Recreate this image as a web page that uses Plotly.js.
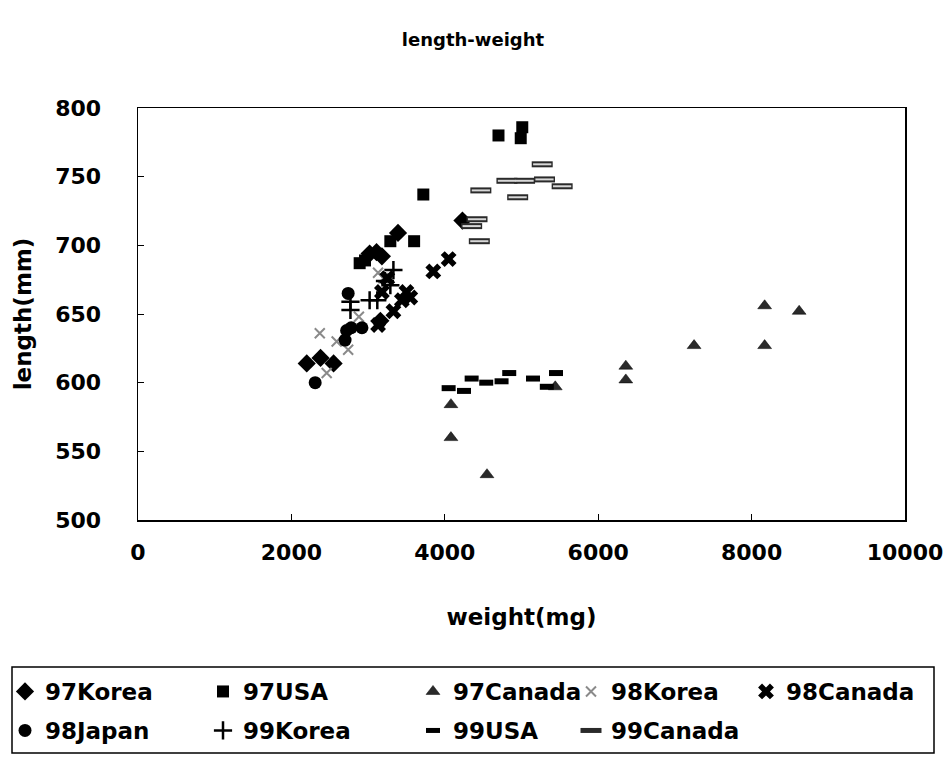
<!DOCTYPE html>
<html>
<head>
<meta charset="utf-8">
<script src="https://cdn.plot.ly/plotly-3.0.1.min.js"></script>
<style>html,body{margin:0;padding:0;background:#fff;}#chart{width:946px;height:757px;}</style>
</head>
<body>
<div id="chart"></div>
<script>
// ---- data (weight in mg, length in mm) ----
const korea97_w  = [2200, 2380, 2550, 3160, 3020, 3110, 3180, 3390, 4230];
const korea97_l  = [614, 618, 614, 645, 694, 695, 692, 709, 718];
const usa97_w    = [2890, 2960, 3290, 3600, 3720, 4700, 4990, 5010];
const usa97_l    = [687, 689, 703, 703, 737, 780, 778, 786];
const canada97_w = [4080, 4080, 4550, 5440, 6360, 6360, 7250, 8170, 8170, 8620];
const canada97_l = [584, 560, 533, 597, 612, 602, 627, 656, 627, 652];
const korea98_w  = [2370, 2460, 2590, 2740, 2880, 3130, 3200];
const korea98_l  = [636, 607, 630, 624, 648, 680, 676];
const canada98_w = [3130, 3330, 3440, 3500, 3550, 3850, 4050, 3180, 3250];
const canada98_l = [642, 652, 660, 666, 662, 681, 690, 666, 676];
const japan98_w  = [2310, 2700, 2720, 2740, 2920, 2780, 3150];
const japan98_l  = [600, 631, 638, 665, 640, 640, 644];
const korea99_w  = [2770, 2770, 3020, 3120, 3290, 3330, 3220];
const korea99_l  = [659, 653, 660, 660, 671, 682, 674];
const usa99_w    = [4050, 4250, 4350, 4540, 4740, 4840, 5150, 5330, 5450];
const usa99_l    = [596, 594, 603, 600, 601, 607, 603, 597, 607];
const canada99_w = [4350, 4420, 4450, 4470, 4810, 5040, 4950, 5270, 5300, 5530];
const canada99_l = [714, 719, 703, 740, 747, 747, 735, 759, 748, 743];

const seriesNames = ['97Korea','97USA','97Canada','98Korea','98Canada','98Japan','99Korea','99USA','99Canada'];
const xTicks = [0, 2000, 4000, 6000, 8000, 10000];
const yTicks = [500, 550, 600, 650, 700, 750, 800];

const FONT = 'DejaVu Sans, Verdana, sans-serif';

function tr(name, x, y, marker, legend, lw) {
  const t = {type:'scatter', mode:'markers', name:name, x:x, y:y, marker:marker,
          legend:legend, cliponaxis:false, hoverinfo:'x+y+name'};
  if (lw) t.legendwidth = lw;
  return t;
}

const traces = [
  tr(seriesNames[0], korea97_w, korea97_l, {symbol:'diamond', size:14, color:'#000'}, 'legend', 153),
  tr(seriesNames[1], usa97_w, usa97_l, {symbol:'square', size:12, color:'#000'}, 'legend', 165),
  tr(seriesNames[2], canada97_w, canada97_l, {symbol:'triangle-up', size:12, color:'#2a2a2a', line:{color:'#000', width:0.5}}, 'legend', 0),
  tr(seriesNames[3], korea98_w, korea98_l, {symbol:'x-thin-open', size:10, color:'#8a8a8a', line:{color:'#8a8a8a', width:2}}, 'legend3', 130),
  tr(seriesNames[4], canada98_w, canada98_l, {symbol:'x', size:14, color:'#000'}, 'legend3', 0),
  tr(seriesNames[5], japan98_w, japan98_l, {symbol:'circle', size:13, color:'#000'}, 'legend2', 153),
  tr(seriesNames[6], korea99_w, korea99_l, {symbol:'cross-thin-open', size:13, color:'#000', line:{color:'#000', width:2.5}}, 'legend2', 165),
  tr(seriesNames[7], usa99_w, usa99_l, {symbol:'line-ew-open', size:10, color:'#000', line:{color:'#000', width:6}}, 'legend2', 0),
  tr(seriesNames[8], canada99_w, canada99_l, {symbol:'line-ew-open', size:15, color:'#2a2a2a', line:{color:'#2a2a2a', width:6}}, 'legend4', 0)
];
// light centre stroke that turns the 99Canada band into an "=" sign
traces.push({type:'scatter', mode:'markers', x:canada99_w, y:canada99_l, showlegend:false, hoverinfo:'skip',
  cliponaxis:false, marker:{symbol:'line-ew-open', size:13, color:'#d8d8d8', line:{color:'#d8d8d8', width:2}}});

const tickFont = {family:FONT, size:22, color:'#000', weight:'bold'};
const legFont = {family:FONT, size:23, color:'#000', weight:'bold'};
const px2x = p => (p - 138) / 767;
const px2y = p => (520 - p) / 412;

function leg(xpx, toppx) {
  return {orientation:'h', xref:'paper', yref:'paper', x:px2x(xpx), xanchor:'left',
          y:px2y(toppx), yanchor:'top', bgcolor:'rgba(0,0,0,0)', borderwidth:0,
          font:legFont, itemclick:false, itemdoubleclick:false};
}

const layout = {
  width:946, height:757,
  paper_bgcolor:'#fff', plot_bgcolor:'#fff',
  margin:{l:138, r:41, t:108, b:237, autoexpand:false},
  font:{family:FONT, color:'#000'},
  title:{text:'length-weight', font:{family:FONT, size:18, color:'#000', weight:'bold'},
         x:0.5, xref:'container', y:1-40/757, yref:'container', yanchor:'middle'},
  xaxis:{range:[0,10000], tickvals:xTicks, ticktext:xTicks.map(String), showgrid:false, zeroline:false,
         showline:true, mirror:true, linecolor:'#000', linewidth:1.5,
         ticks:'inside', ticklen:6, tickcolor:'#000', tickwidth:1,
         tickfont:tickFont, ticklabelstandoff:12, automargin:false,
         title:{text:'weight(mg)', font:{family:FONT, size:23, color:'#000', weight:'bold'}, standoff:45}},
  yaxis:{range:[500,800], tickvals:yTicks, ticktext:yTicks.map(String), showgrid:false, zeroline:false,
         showline:true, mirror:true, linecolor:'#000', linewidth:1.5,
         ticks:'inside', ticklen:6, tickcolor:'#000', tickwidth:1,
         tickfont:tickFont, ticklabelstandoff:31, automargin:false,
         title:{text:'length(mm)', font:{family:FONT, size:23, color:'#000', weight:'bold'}, standoff:17}},
  legend: leg(5, 670),
  legend2: leg(5, 709),
  legend3: leg(571, 670),
  legend4: leg(571, 709),
  shapes:[{type:'rect', xref:'paper', yref:'paper', x0:px2x(12), x1:px2x(934),
           y0:px2y(753), y1:px2y(667), line:{color:'#000', width:1.5}, fillcolor:'rgba(0,0,0,0)', layer:'below'}]
};

Plotly.newPlot('chart', traces, layout, {staticPlot:true, displayModeBar:false});
</script>
</body>
</html>
